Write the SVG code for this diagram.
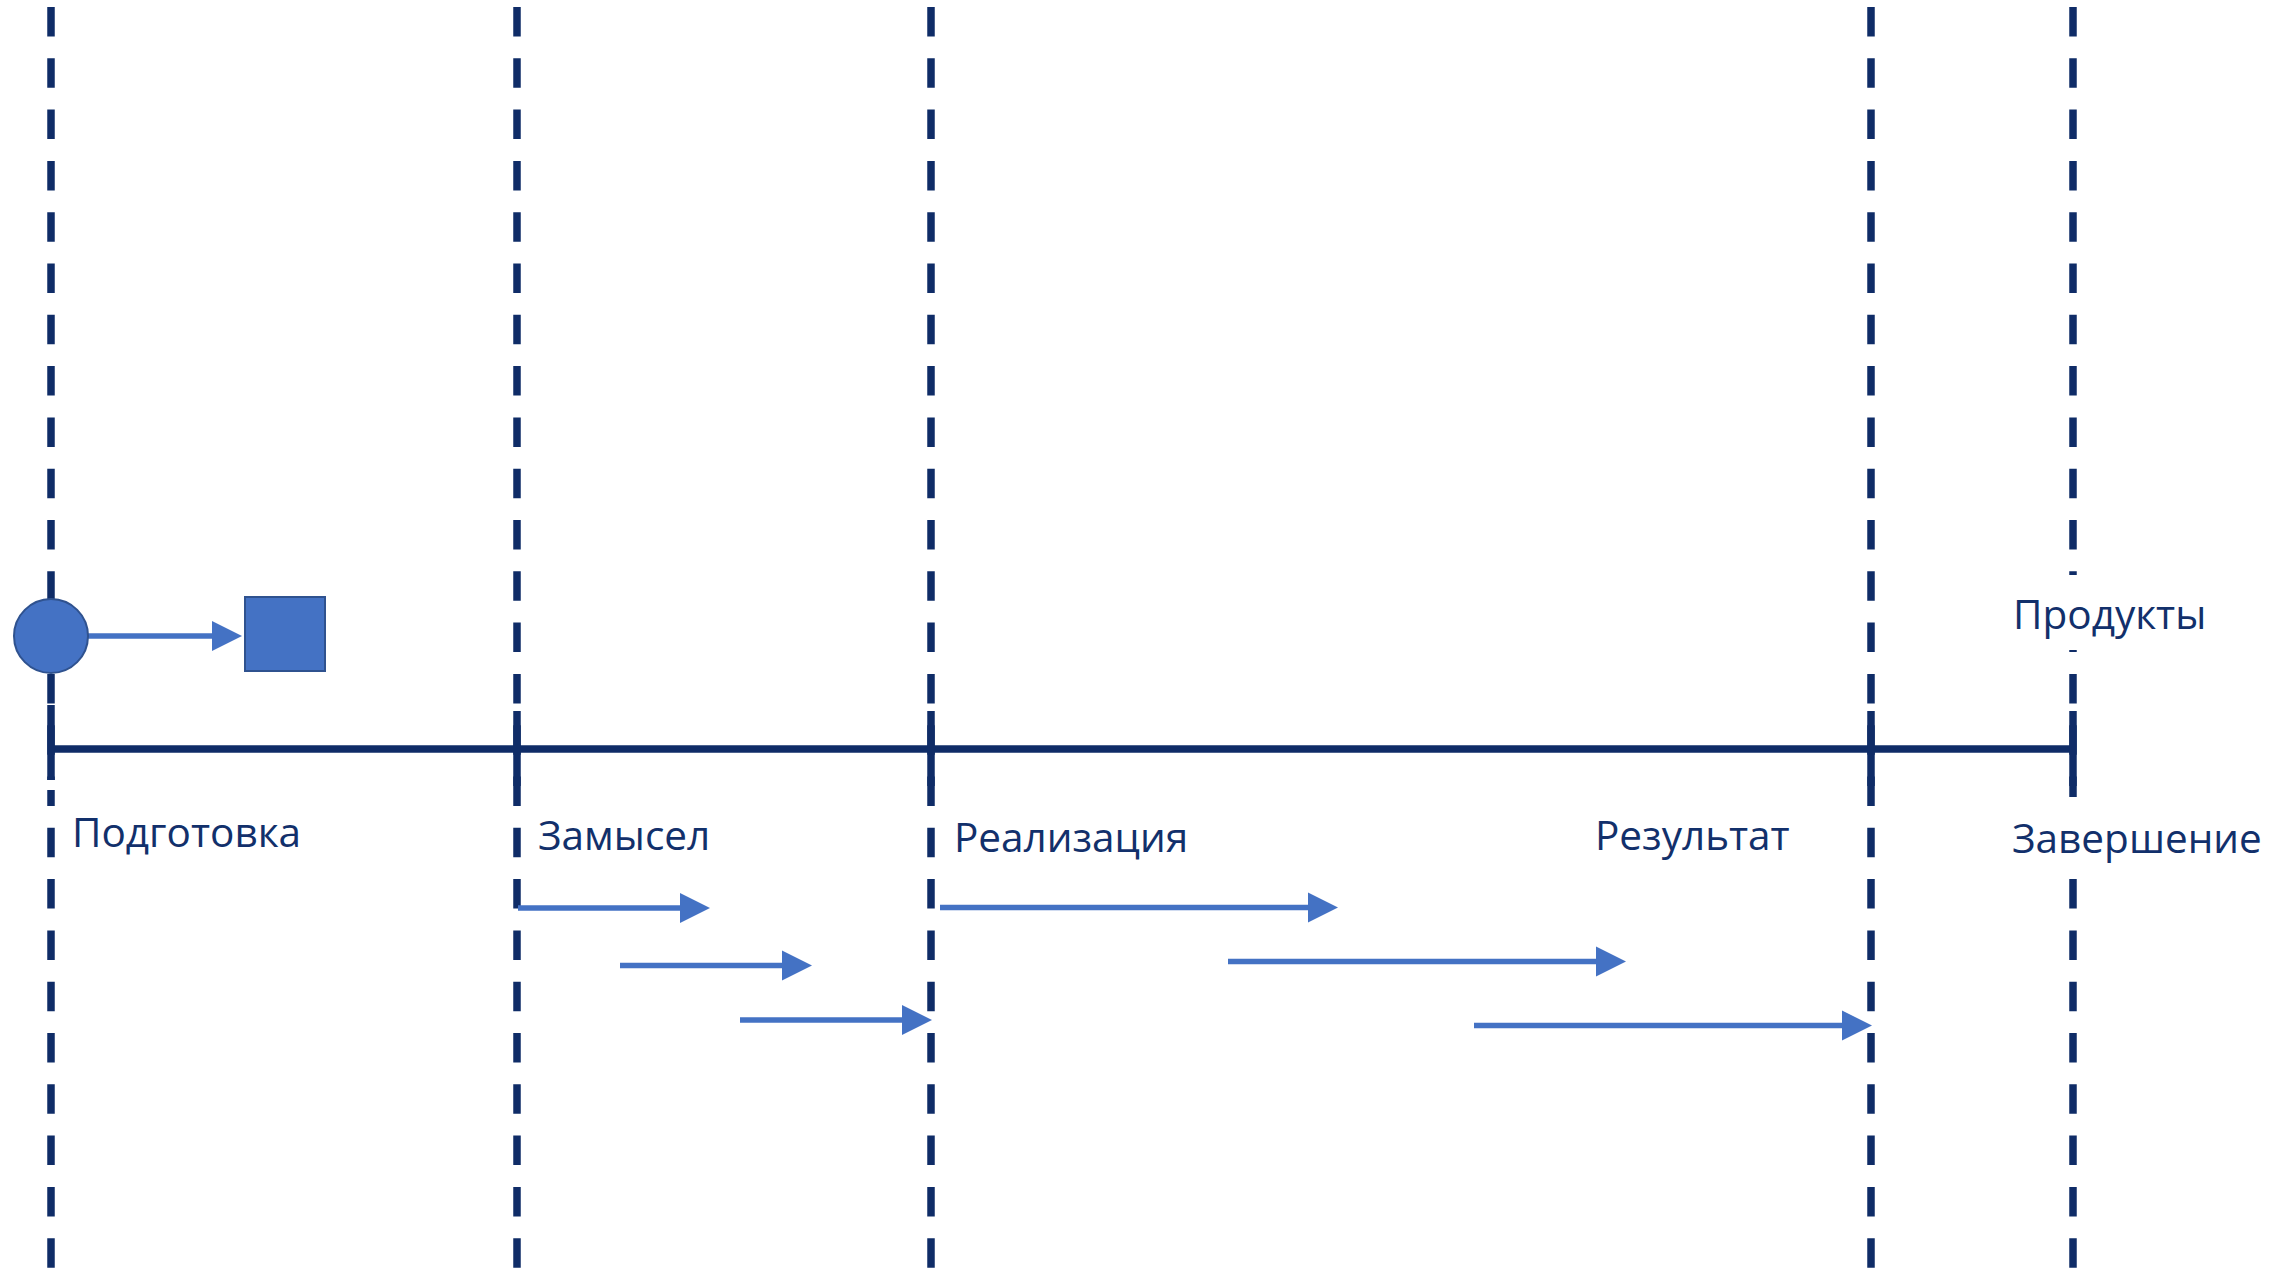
<svg xmlns="http://www.w3.org/2000/svg" width="2292" height="1268" viewBox="0 0 2292 1268">
<defs>
<style>
.dash{stroke:#0F2C67;stroke-width:7.5;stroke-dasharray:29.5 21.8;fill:none}
.tick{stroke:#0F2C67;stroke-width:7.5;fill:none}
.axis{stroke:#0F2C67;stroke-width:7.5;fill:none}
.arr{stroke:#4472C4;stroke-width:5.5;fill:none;marker-end:url(#ah)}
.lbl{font-family:"Open Sans","Noto Sans",sans-serif;font-size:40.5px;fill:#12306B}
.shape{fill:#4472C4;stroke:#2F528F;stroke-width:2}
</style>
<marker id="ah" markerUnits="userSpaceOnUse" markerWidth="30" markerHeight="30" viewBox="0 0 30 30" refX="2" refY="15" orient="auto" overflow="visible">
<path d="M0,0 L30,15 L0,30 Z" fill="#4472C4"/>
</marker>
</defs>
<rect width="2292" height="1268" fill="#fff"/>
<g id="grid">
<line class="dash" x1="51" y1="7" x2="51" y2="1268"/>
<line class="dash" x1="517" y1="7" x2="517" y2="1268"/>
<line class="dash" x1="931" y1="7" x2="931" y2="1268"/>
<line class="dash" x1="1871" y1="7" x2="1871" y2="1268"/>
<line class="dash" x1="2073" y1="7" x2="2073" y2="1268"/>
</g>
<g id="timeline">
<line class="axis" x1="51" y1="749" x2="2073" y2="749"/>
<rect x="46" y="780" width="10" height="10" fill="#fff"/>
<line class="tick" x1="51" y1="705" x2="51" y2="780"/>
<line class="tick" x1="517" y1="711" x2="517" y2="786"/>
<line class="tick" x1="931" y1="711" x2="931" y2="786"/>
<line class="tick" x1="1871" y1="711" x2="1871" y2="786"/>
<line class="tick" x1="2073" y1="711" x2="2073" y2="786"/>
</g>
<g id="connectors">
<line class="arr" x1="88" y1="636" x2="214" y2="636"/>
<line class="arr" x1="518" y1="908" x2="682" y2="908"/>
<line class="arr" x1="620" y1="965.5" x2="784" y2="965.5"/>
<line class="arr" x1="740" y1="1020" x2="904" y2="1020"/>
<line class="arr" x1="940" y1="907.5" x2="1310" y2="907.5"/>
<line class="arr" x1="1228" y1="961.5" x2="1598" y2="961.5"/>
<line class="arr" x1="1474" y1="1025.5" x2="1844" y2="1025.5"/>
</g>
<g id="start">
<circle class="shape" cx="51" cy="636" r="37"/>
</g>
<g id="square">
<rect class="shape" x="245" y="597" width="80" height="74"/>
</g>
<g id="label-podgotovka"><text class="lbl" x="72" y="847">Подготовка</text></g>
<g id="label-zamysel"><text class="lbl" x="538" y="850">Замысел</text></g>
<g id="label-realizatsiya"><text class="lbl" x="954" y="851.5">Реализация</text></g>
<g id="label-rezultat"><text class="lbl" x="1595" y="850">Результат</text></g>
<g id="label-produkty">
<rect x="2005" y="575" width="215" height="75" fill="#fff"/>
<text class="lbl" x="2013" y="629">Продукты</text>
</g>
<g id="label-zavershenie">
<rect x="2005" y="797" width="270" height="80" fill="#fff"/>
<text class="lbl" x="2012" y="853">Завершение</text>
</g>
</svg>
